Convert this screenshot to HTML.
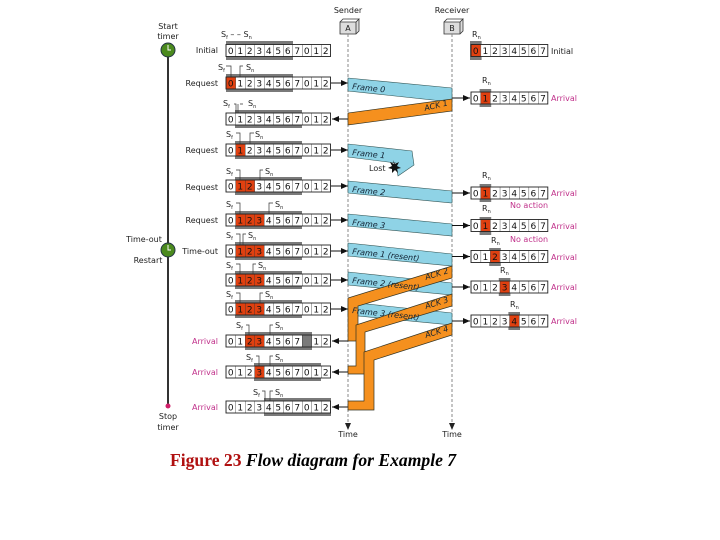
<!DOCTYPE html>
<html><head><meta charset="utf-8"><style>
html,body{margin:0;padding:0;background:#fff;width:720px;height:540px;overflow:hidden}
svg{display:block}
.d{font-family:"DejaVu Sans","Liberation Sans",sans-serif;font-size:9px;fill:#111}
.s{font-family:"DejaVu Sans","Liberation Sans",sans-serif;font-size:8px;fill:#222}
.m{fill:#c0308a}
.fr{font-family:"DejaVu Sans","Liberation Sans",sans-serif;font-size:8px;font-style:italic;fill:#123}
</style></head><body>
<svg width="720" height="540" viewBox="0 0 720 540" xmlns="http://www.w3.org/2000/svg">
<defs>
<pattern id="sp" x="226" y="0" width="9.5" height="20" patternUnits="userSpaceOnUse"><line x1="0" y1="0" x2="0" y2="20" stroke="#333" stroke-width="0.8"/></pattern>
<pattern id="rp" x="471" y="0" width="9.6" height="20" patternUnits="userSpaceOnUse"><line x1="0" y1="0" x2="0" y2="20" stroke="#333" stroke-width="0.8"/></pattern>
<g id="sw"><rect x="226" y="-6" width="104.5" height="12" fill="#fff"/></g>
<g id="sg"><rect x="226" y="-6" width="104.5" height="12" fill="url(#sp)" stroke="#222" stroke-width="0.9"/></g>
<g id="rw"><rect x="471" y="-6" width="76.8" height="12" fill="#fff"/></g>
<g id="rg"><rect x="471" y="-6" width="76.8" height="12" fill="url(#rp)" stroke="#222" stroke-width="0.9"/></g>
<marker id="ah" markerWidth="8" markerHeight="8" refX="7" refY="4" orient="auto" markerUnits="userSpaceOnUse"><path d="M0,1 L7,4 L0,7 z" fill="#111"/></marker>
</defs>

<!-- headers -->
<text x="348" y="13" class="s" text-anchor="middle">Sender</text>
<text x="452" y="13" class="s" text-anchor="middle">Receiver</text>
<path d="M340,22 h16 l3,-3 v12 l-3,3 h-16 z" fill="#ddd" stroke="#333" stroke-width="0.8"/><path d="M340,22 l3,-3 h16 M356,22 v12" fill="none" stroke="#333" stroke-width="0.8"/>
<text x="348" y="31" class="s" font-size="7" text-anchor="middle">A</text>
<path d="M444,22 h16 l3,-3 v12 l-3,3 h-16 z" fill="#ddd" stroke="#333" stroke-width="0.8"/><path d="M444,22 l3,-3 h16 M460,22 v12" fill="none" stroke="#333" stroke-width="0.8"/>
<text x="452" y="31" class="s" font-size="7" text-anchor="middle">B</text>
<line x1="348" y1="34" x2="348" y2="424" stroke="#888" stroke-dasharray="3,2"/>
<line x1="452" y1="34" x2="452" y2="424" stroke="#888" stroke-dasharray="3,2"/>
<polygon points="345,423 351,423 348,430" fill="#222"/>
<polygon points="449,423 455,423 452,430" fill="#222"/>
<text x="348" y="437" class="s" text-anchor="middle">Time</text>
<text x="452" y="437" class="s" text-anchor="middle">Time</text>

<!-- timeline -->
<line x1="168" y1="50" x2="168" y2="406" stroke="#333" stroke-width="2"/>
<circle cx="168" cy="50" r="7" fill="#4b8a1e" stroke="#234" stroke-width="1"/><path d="M168,45 v5 h3" stroke="#fff" stroke-width="1" fill="none"/>
<circle cx="168" cy="250" r="7" fill="#4b8a1e" stroke="#234" stroke-width="1"/><path d="M168,245 v5 h3" stroke="#fff" stroke-width="1" fill="none"/>
<circle cx="168" cy="406" r="2.5" fill="#d0206a"/>
<text x="168" y="29" class="s" text-anchor="middle">Start</text>
<text x="168" y="39" class="s" text-anchor="middle">timer</text>
<text x="144" y="242" class="s" text-anchor="middle">Time-out</text>
<text x="148" y="263" class="s" text-anchor="middle">Restart</text>
<text x="168" y="419" class="s" text-anchor="middle">Stop</text>
<text x="168" y="430" class="s" text-anchor="middle">timer</text>

<g class="s" text-anchor="end">
<text x="218" y="53">Initial</text>
<text x="218" y="86">Request</text>
<text x="218" y="153">Request</text>
<text x="218" y="190">Request</text>
<text x="218" y="223">Request</text>
<text x="218" y="254">Time-out</text>
<text x="218" y="344" class="m">Arrival</text>
<text x="218" y="375" class="m">Arrival</text>
<text x="218" y="410" class="m">Arrival</text>
</g>

<g fill="#7a7a7a">
<rect x="226" y="41" width="67" height="19"/>
<rect x="226" y="74" width="67" height="18"/>
<rect x="235" y="110" width="67" height="18"/>
<rect x="235" y="141" width="67" height="18"/>
<rect x="235" y="177" width="67" height="18"/>
<rect x="235" y="211" width="67" height="18"/>
<rect x="235" y="242" width="67" height="18"/>
<rect x="235" y="271" width="67" height="18"/>
<rect x="235" y="300" width="67" height="18"/>
<rect x="245" y="332" width="67" height="18"/>
<rect x="254" y="363" width="67" height="18"/>
<rect x="264" y="398" width="67" height="18"/>
</g>
<use href="#sw" y="50.5"/><use href="#sw" y="83"/><use href="#sw" y="119"/><use href="#sw" y="150"/><use href="#sw" y="186"/><use href="#sw" y="220"/><use href="#sw" y="251"/><use href="#sw" y="280"/><use href="#sw" y="309"/><use href="#sw" y="341"/><use href="#sw" y="372"/><use href="#sw" y="407"/>
<g fill="#e04010">
<rect x="226" y="77" width="9.5" height="12"/>
<rect x="235.5" y="144" width="9.5" height="12"/>
<rect x="235.5" y="180" width="19" height="12"/>
<rect x="235.5" y="214" width="28.5" height="12"/>
<rect x="235.5" y="245" width="28.5" height="12"/>
<rect x="235.5" y="274" width="28.5" height="12"/>
<rect x="235.5" y="303" width="28.5" height="12"/>
<rect x="245" y="335" width="19" height="12"/>
<rect x="254.5" y="366" width="9.5" height="12"/>
</g>
<rect x="302" y="335" width="10" height="12" fill="#7a7a7a"/>
<use href="#sg" y="50.5"/><use href="#sg" y="83"/><use href="#sg" y="119"/><use href="#sg" y="150"/><use href="#sg" y="186"/><use href="#sg" y="220"/><use href="#sg" y="251"/><use href="#sg" y="280"/><use href="#sg" y="309"/><use href="#sg" y="341"/><use href="#sg" y="372"/><use href="#sg" y="407"/>
<g class="d" text-anchor="middle">
<text x="230.8 240.3 249.8 259.3 268.8 278.3 287.8 297.3 306.8 316.3 325.8" y="54">01234567012</text>
<text x="230.8 240.3 249.8 259.3 268.8 278.3 287.8 297.3 306.8 316.3 325.8" y="86.5">01234567012</text>
<text x="230.8 240.3 249.8 259.3 268.8 278.3 287.8 297.3 306.8 316.3 325.8" y="122.5">01234567012</text>
<text x="230.8 240.3 249.8 259.3 268.8 278.3 287.8 297.3 306.8 316.3 325.8" y="153.5">01234567012</text>
<text x="230.8 240.3 249.8 259.3 268.8 278.3 287.8 297.3 306.8 316.3 325.8" y="189.5">01234567012</text>
<text x="230.8 240.3 249.8 259.3 268.8 278.3 287.8 297.3 306.8 316.3 325.8" y="223.5">01234567012</text>
<text x="230.8 240.3 249.8 259.3 268.8 278.3 287.8 297.3 306.8 316.3 325.8" y="254.5">01234567012</text>
<text x="230.8 240.3 249.8 259.3 268.8 278.3 287.8 297.3 306.8 316.3 325.8" y="283.5">01234567012</text>
<text x="230.8 240.3 249.8 259.3 268.8 278.3 287.8 297.3 306.8 316.3 325.8" y="312.5">01234567012</text>
<text x="230.8 240.3 249.8 259.3 268.8 278.3 287.8 297.3 316.3 325.8" y="344.5">0123456712</text>
<text x="230.8 240.3 249.8 259.3 268.8 278.3 287.8 297.3 306.8 316.3 325.8" y="375.5">01234567012</text>
<text x="230.8 240.3 249.8 259.3 268.8 278.3 287.8 297.3 306.8 316.3 325.8" y="410.5">01234567012</text>
</g>

<g class="s" font-size="8">
<text x="221" y="37">S<tspan font-size="5" dy="2">f</tspan><tspan dy="-2"> – – S</tspan><tspan font-size="5" dy="2">n</tspan></text>
<text x="218" y="70">S<tspan font-size="5" dy="2">f</tspan></text><text x="246" y="70">S<tspan font-size="5" dy="2">n</tspan></text>
<text x="223" y="106">S<tspan font-size="5" dy="2">f</tspan></text><text x="248" y="106">S<tspan font-size="5" dy="2">n</tspan></text>
<text x="226" y="137">S<tspan font-size="5" dy="2">f</tspan></text><text x="255" y="137">S<tspan font-size="5" dy="2">n</tspan></text>
<text x="226" y="174">S<tspan font-size="5" dy="2">f</tspan></text><text x="265" y="174">S<tspan font-size="5" dy="2">n</tspan></text>
<text x="226" y="207">S<tspan font-size="5" dy="2">f</tspan></text><text x="275" y="207">S<tspan font-size="5" dy="2">n</tspan></text>
<text x="226" y="238">S<tspan font-size="5" dy="2">f</tspan></text><text x="248" y="238">S<tspan font-size="5" dy="2">n</tspan></text>
<text x="226" y="268">S<tspan font-size="5" dy="2">f</tspan></text><text x="258" y="268">S<tspan font-size="5" dy="2">n</tspan></text>
<text x="226" y="297">S<tspan font-size="5" dy="2">f</tspan></text><text x="265" y="297">S<tspan font-size="5" dy="2">n</tspan></text>
<text x="236" y="328">S<tspan font-size="5" dy="2">f</tspan></text><text x="275" y="328">S<tspan font-size="5" dy="2">n</tspan></text>
<text x="246" y="360">S<tspan font-size="5" dy="2">f</tspan></text><text x="275" y="360">S<tspan font-size="5" dy="2">n</tspan></text>
<text x="253" y="395">S<tspan font-size="5" dy="2">f</tspan></text><text x="275" y="395">S<tspan font-size="5" dy="2">n</tspan></text>
</g>
<g stroke="#333" stroke-width="0.7" fill="none">
<path d="M226,66 h5 v11 M243,66 h-3 v11"/>
<path d="M234,104 h2 v9 M238,104 v9 M240,104 h3"/>
<path d="M236,133 h4 v11 M254,133 h-4 v11"/>
<path d="M236,170 h4 v10 M263,170 h-3 v10"/>
<path d="M236,203 h4 v11 M273,203 h-4 v11"/>
<path d="M236,234 h4 v11 M246,234 h-3 v11"/>
<path d="M236,264 h4 v10 M256,264 h-3 v10"/>
<path d="M236,293 h4 v10 M263,293 h-3 v10"/>
<path d="M246,325 h3 v10 M273,325 h-3 v10"/>
<path d="M256,356 h3 v10 M273,356 h-3 v10"/>
<path d="M262,391 h3 v10 M273,391 h-3 v10"/>
</g>

<g stroke="#111" stroke-width="1" marker-end="url(#ah)">
<line x1="331" y1="83" x2="348" y2="83"/>
<line x1="331" y1="150" x2="348" y2="150"/>
<line x1="331" y1="186" x2="348" y2="186"/>
<line x1="331" y1="220" x2="348" y2="220"/>
<line x1="331" y1="251" x2="348" y2="251"/>
<line x1="331" y1="280" x2="348" y2="280"/>
<line x1="331" y1="309" x2="348" y2="309"/>
<line x1="348" y1="119" x2="332" y2="119"/>
<line x1="348" y1="341" x2="332" y2="341"/>
<line x1="348" y1="372" x2="332" y2="372"/>
<line x1="348" y1="407" x2="332" y2="407"/>
</g>

<g fill="#8fd3e6" stroke="#355" stroke-width="0.6">
<polygon points="348,78 452,88 452,102 348,91"/>
<polygon points="348,144 412,151 414,165 398,176 396,163 348,157"/>
<polygon points="348,181 452,191 452,203 348,193"/>
<polygon points="348,214 452,224 452,236 348,226"/>
<polygon points="348,243 452,254 452,266 348,256"/>
<polygon points="348,272 452,283 452,295 348,285"/>
<polygon points="348,302 452,313 452,325 348,315"/>
</g>
<g fill="#f5901e" stroke="#332" stroke-width="0.7">
<polygon points="452,99 452,111 348,125 348,113"/>
<polygon points="452,266 452,278 358,306 358,341 348,341 348,298"/>
<polygon points="452,294 452,306 365,332 365,374 348,374 348,366 356,366 356,325"/>
<polygon points="452,323 452,335 374,360 374,410 348,410 348,401 364,401 364,352"/>
</g>
<g class="fr">
<text x="352" y="89" transform="rotate(6 352 89)">Frame 0</text>
<text x="352" y="155" transform="rotate(6 352 155)">Frame 1</text>
<text x="352" y="192" transform="rotate(6 352 192)">Frame 2</text>
<text x="352" y="225" transform="rotate(6 352 225)">Frame 3</text>
<text x="352" y="254" transform="rotate(6 352 254)">Frame 1 (resent)</text>
<text x="352" y="283" transform="rotate(6 352 283)">Frame 2 (resent)</text>
<text x="352" y="313" transform="rotate(6 352 313)">Frame 3 (resent)</text>
<text x="425" y="111" transform="rotate(-14 425 111)">ACK 1</text>
<text x="426" y="280" transform="rotate(-17 426 280)">ACK 2</text>
<text x="426" y="309" transform="rotate(-17 426 309)">ACK 3</text>
<text x="426" y="338" transform="rotate(-17 426 338)">ACK 4</text>
</g>
<text x="369" y="171" class="s">Lost</text>
<path d="M393,160 l2,4 4,-2 -2,4 4,2 -4,1 1,4 -3,-3 -3,3 0,-4 -4,-1 4,-2 -2,-4 4,2z" fill="#111"/>

<g fill="#7a7a7a">
<rect x="470" y="41" width="11.6" height="19"/>
<rect x="479.6" y="89" width="11.6" height="18"/>
<rect x="479.6" y="184" width="11.6" height="18"/>
<rect x="479.6" y="217" width="11.6" height="18"/>
<rect x="489.2" y="248" width="11.6" height="18"/>
<rect x="498.8" y="278" width="11.6" height="18"/>
<rect x="508.4" y="312" width="11.6" height="18"/>
</g>
<use href="#rw" y="50.5"/><use href="#rw" y="98"/><use href="#rw" y="193"/><use href="#rw" y="225.5"/><use href="#rw" y="256.5"/><use href="#rw" y="287"/><use href="#rw" y="321"/>
<g fill="#e04010">
<rect x="471" y="44.5" width="9.6" height="12"/>
<rect x="480.6" y="92" width="9.6" height="12"/>
<rect x="480.6" y="187" width="9.6" height="12"/>
<rect x="480.6" y="219.5" width="9.6" height="12"/>
<rect x="490.2" y="250.5" width="9.6" height="12"/>
<rect x="499.8" y="281" width="9.6" height="12"/>
<rect x="509.4" y="315" width="9.6" height="12"/>
</g>
<use href="#rg" y="50.5"/><use href="#rg" y="98"/><use href="#rg" y="193"/><use href="#rg" y="225.5"/><use href="#rg" y="256.5"/><use href="#rg" y="287"/><use href="#rg" y="321"/>
<g class="d" text-anchor="middle">
<text x="475.8 485.4 495 504.6 514.2 523.8 533.4 543" y="54">01234567</text>
<text x="475.8 485.4 495 504.6 514.2 523.8 533.4 543" y="101.5">01234567</text>
<text x="475.8 485.4 495 504.6 514.2 523.8 533.4 543" y="196.5">01234567</text>
<text x="475.8 485.4 495 504.6 514.2 523.8 533.4 543" y="229">01234567</text>
<text x="475.8 485.4 495 504.6 514.2 523.8 533.4 543" y="260">01234567</text>
<text x="475.8 485.4 495 504.6 514.2 523.8 533.4 543" y="290.5">01234567</text>
<text x="475.8 485.4 495 504.6 514.2 523.8 533.4 543" y="324.5">01234567</text>
</g>
<g class="s">
<text x="472" y="37">R<tspan font-size="5" dy="2">n</tspan></text>
<text x="482" y="83">R<tspan font-size="5" dy="2">n</tspan></text>
<text x="482" y="178">R<tspan font-size="5" dy="2">n</tspan></text>
<text x="482" y="211">R<tspan font-size="5" dy="2">n</tspan></text>
<text x="491" y="243">R<tspan font-size="5" dy="2">n</tspan></text>
<text x="500" y="273">R<tspan font-size="5" dy="2">n</tspan></text>
<text x="510" y="307">R<tspan font-size="5" dy="2">n</tspan></text>
<text x="551" y="54">Initial</text>
<text x="551" y="101" class="m">Arrival</text>
<text x="551" y="196" class="m">Arrival</text>
<text x="551" y="229" class="m">Arrival</text>
<text x="551" y="260" class="m">Arrival</text>
<text x="551" y="290" class="m">Arrival</text>
<text x="551" y="324" class="m">Arrival</text>
<text x="510" y="208" class="m">No action</text>
<text x="510" y="242" class="m">No action</text>
</g>
<g stroke="#111" stroke-width="1" marker-end="url(#ah)">
<line x1="452" y1="98" x2="470" y2="98"/>
<line x1="452" y1="193" x2="470" y2="193"/>
<line x1="452" y1="225.5" x2="470" y2="225.5"/>
<line x1="452" y1="256.5" x2="470" y2="256.5"/>
<line x1="452" y1="287" x2="470" y2="287"/>
<line x1="452" y1="321" x2="470" y2="321"/>
</g>

<text x="170" y="466" font-family="'Liberation Serif',serif" font-size="17.6" font-weight="bold"><tspan fill="#b01010">Figure 23 </tspan><tspan font-style="italic" fill="#000">Flow diagram for Example 7</tspan></text>
</svg>
</body></html>
